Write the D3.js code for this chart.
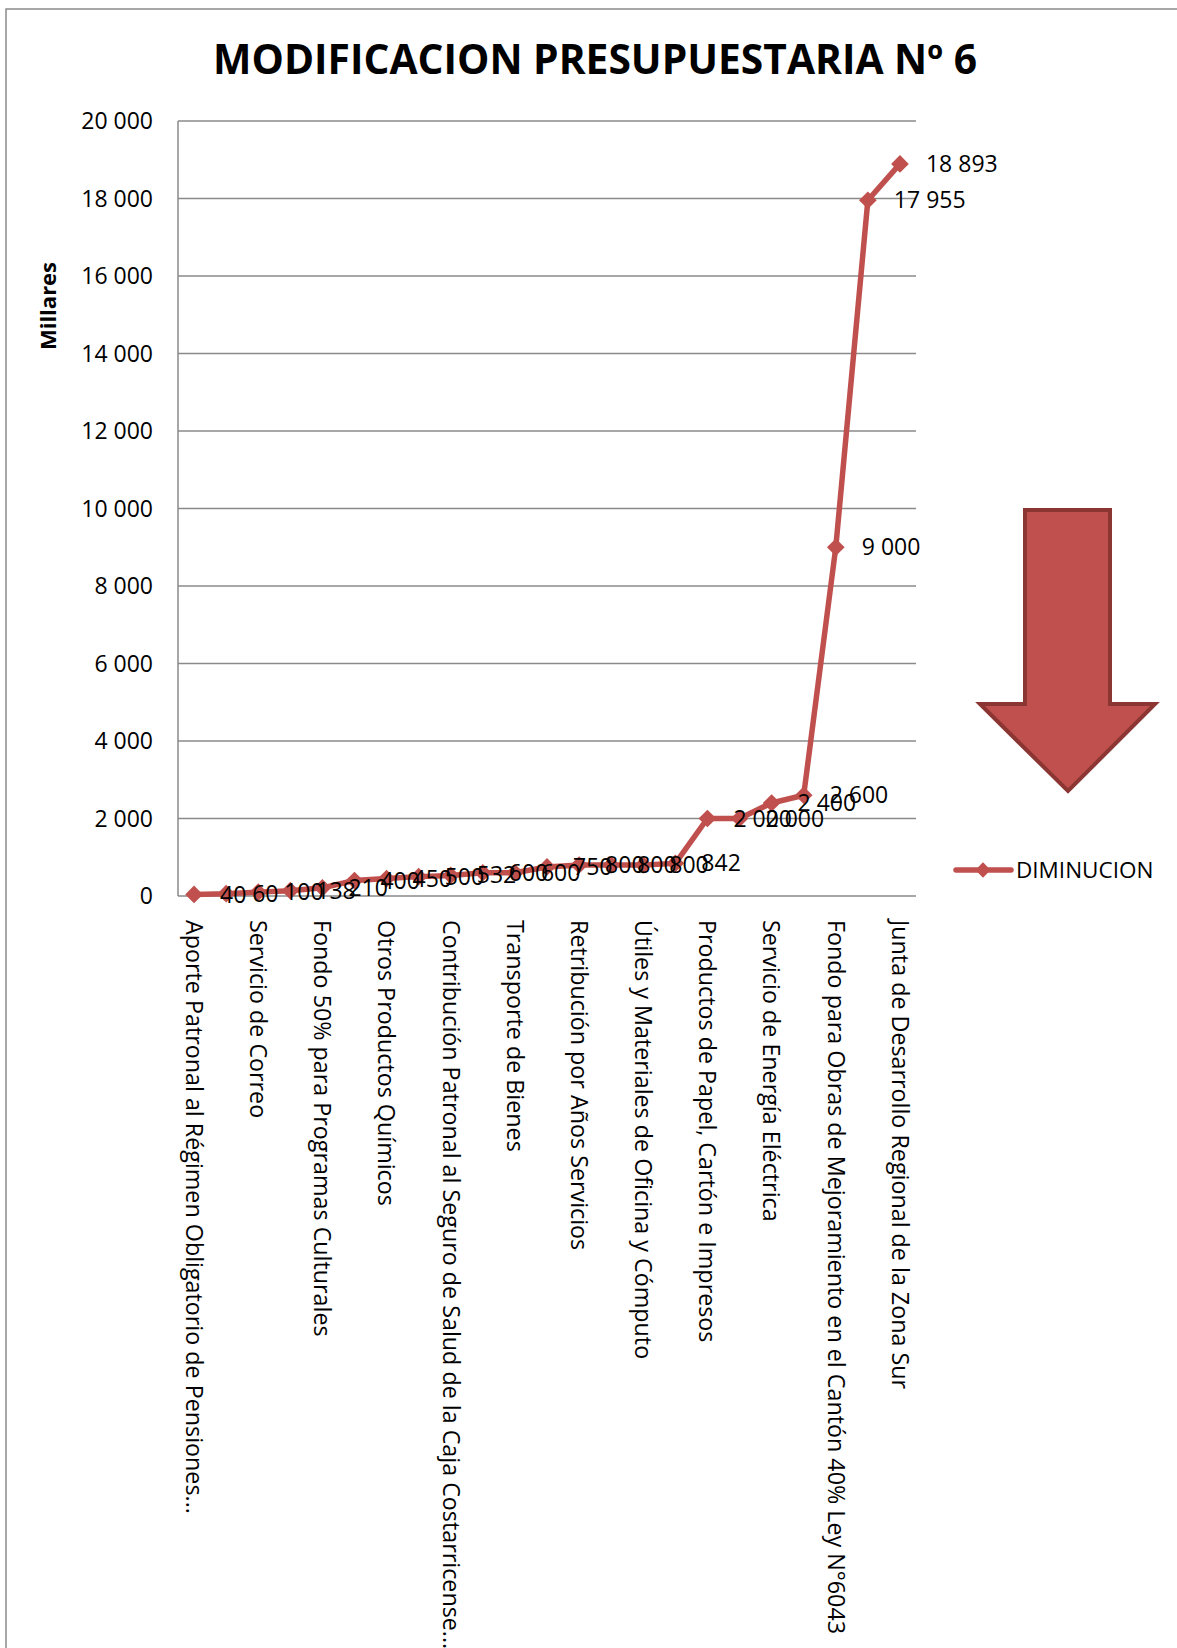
<!DOCTYPE html>
<html>
<head>
<meta charset="utf-8">
<script src="https://cdn.jsdelivr.net/npm/d3@7"></script>
<style>
  body { margin: 0; background: #fff; }
  text { font-family: "Open Sans", sans-serif; fill: #000; }
</style>
</head>
<body>
<div class="chart"></div>
<script>
// categorias (solo las pares se ven en el eje)
const categories = [
    "Aporte Patronal al Régimen Obligatorio de Pensiones...",
    "Partida 2",
    "Servicio de Correo",
    "Partida 4",
    "Fondo 50% para Programas Culturales",
    "Partida 6",
    "Otros Productos Químicos",
    "Partida 8",
    "Contribución Patronal al Seguro de Salud de la Caja Costarricense...",
    "Partida 10",
    "Transporte de Bienes",
    "Partida 12",
    "Retribución por Años Servicios",
    "Partida 14",
    "Útiles y Materiales de Oficina y Cómputo",
    "Partida 16",
    "Productos de Papel, Cartón e Impresos",
    "Partida 18",
    "Servicio de Energía Eléctrica",
    "Partida 20",
    "Fondo para Obras de Mejoramiento en el Cantón 40% Ley N°6043",
    "Partida 22",
    "Junta de Desarrollo Regional de la Zona Sur"
];
const diminucion = [40, 60, 100, 138, 210, 400, 450, 500, 532, 600, 600, 750,
                    800, 800, 800, 842, 2000, 2000, 2400, 2600, 9000, 17955, 18893];
const yTicks = [0, 2000, 4000, 6000, 8000, 10000, 12000, 14000, 16000, 18000, 20000];
const title = "MODIFICACION PRESUPUESTARIA Nº 6";
const seriesName = "DIMINUCION";
const yTitle = "Millares";

var width = 1177;
var height = 1648;
var red = "#C0504D";
var grid = "#8a8a8a";

var svg = d3.select(".chart").append("svg")
    .attr("width", width)
    .attr("height", height);

// marco exterior
svg.append("rect")
    .attr("x", 6).attr("y", 9)
    .attr("width", 1300).attr("height", 1800)
    .attr("fill", "none")
    .attr("stroke", grid)
    .attr("stroke-width", 1.5);

var x = d3.scalePoint().domain(categories).range([178, 916]).padding(0.5);
var y = d3.scaleLinear().domain([0, 20000]).range([896, 121]);
var fmt = function(d) { return d3.format(",")(d).replace(/,/g, " "); };

// titulo
var t = svg.append("text")
    .attr("x", 595).attr("y", 74)
    .attr("text-anchor", "middle")
    .attr("font-weight", "bold")
    .attr("font-size", 40)
    .text(title);
var tw = t.node().getComputedTextLength();
t.attr("font-size", 40 * 764 / tw);

// rejilla
svg.append("g").selectAll("line")
    .data(yTicks)
    .enter().append("line")
    .attr("x1", 178).attr("x2", 916)
    .attr("y1", function(d) { return y(d); })
    .attr("y2", function(d) { return y(d); })
    .attr("stroke", grid)
    .attr("stroke-width", 1.5);

svg.append("line")
    .attr("x1", 178).attr("x2", 178)
    .attr("y1", y(20000)).attr("y2", y(0))
    .attr("stroke", grid)
    .attr("stroke-width", 1.5);

// eje y
svg.append("g").selectAll("text")
    .data(yTicks)
    .enter().append("text")
    .attr("x", 153)
    .attr("y", function(d) { return y(d); })
    .attr("dy", "0.35em")
    .attr("text-anchor", "end")
    .attr("font-size", 23)
    .text(fmt);

svg.append("text")
    .attr("transform", "translate(48,306) rotate(-90)")
    .attr("text-anchor", "middle")
    .attr("dy", "0.35em")
    .attr("font-weight", "bold")
    .attr("font-size", 22)
    .text(yTitle);

// eje x
svg.append("g").selectAll("text")
    .data(categories.filter(function(d, i) { return i % 2 == 0; }))
    .enter().append("text")
    .attr("transform", function(d) { return "translate(" + x(d) + ",920) rotate(90)"; })
    .attr("dy", "0.35em")
    .attr("font-size", 23.3)
    .text(function(d) { return d; });

// serie
var line = d3.line()
    .x(function(d, i) { return x(categories[i]); })
    .y(function(d) { return y(d); });

svg.append("path")
    .datum(diminucion)
    .attr("d", line)
    .attr("fill", "none")
    .attr("stroke", red)
    .attr("stroke-width", 5.5)
    .attr("stroke-linejoin", "round");

var diamond = d3.symbol().type(d3.symbolDiamond2).size(200);

svg.append("g").selectAll("path")
    .data(diminucion)
    .enter().append("path")
    .attr("d", diamond)
    .attr("transform", function(d, i) { return "translate(" + x(categories[i]) + "," + y(d) + ")"; })
    .attr("fill", red);

svg.append("g").selectAll("text")
    .data(diminucion)
    .enter().append("text")
    .attr("x", function(d, i) { return x(categories[i]) + 26; })
    .attr("y", function(d) { return y(d); })
    .attr("dy", "0.35em")
    .attr("font-size", 23)
    .text(fmt);

// leyenda
svg.append("line")
    .attr("x1", 956).attr("x2", 1011)
    .attr("y1", 870).attr("y2", 870)
    .attr("stroke", red)
    .attr("stroke-width", 5.5)
    .attr("stroke-linecap", "round");
svg.append("path")
    .attr("d", d3.symbol().type(d3.symbolDiamond2).size(150))
    .attr("transform", "translate(983,870)")
    .attr("fill", red);
svg.append("text")
    .attr("x", 1016).attr("y", 870)
    .attr("dy", "0.35em")
    .attr("font-size", 22.5)
    .text(seriesName);

// flecha
svg.append("path")
    .attr("d", "M1025,510 L1110,510 L1110,704 L1155,704 L1068,791 L980,704 L1025,704 Z")
    .attr("fill", red)
    .attr("stroke", "#8C3634")
    .attr("stroke-width", 4);
</script>
</body>
</html>
